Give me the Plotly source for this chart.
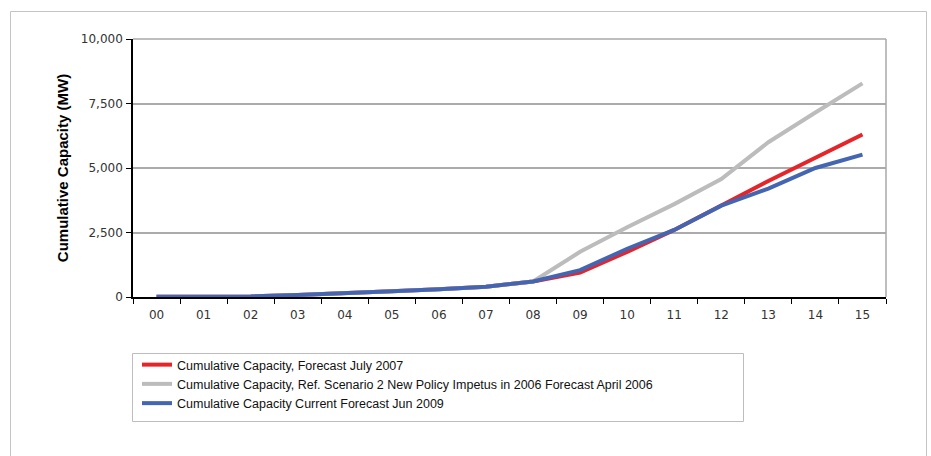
import plotly.graph_objects as go

# Years (two-digit) along the category axis
years = ["00", "01", "02", "03", "04", "05", "06", "07",
         "08", "09", "10", "11", "12", "13", "14", "15"]

# Cumulative installed capacity, MW
forecast_jul_2007 = [10, 10, 20, 80, 140, 220, 300, 400,
                     600, 950, 1750, 2600, 3550, 4500, 5400, 6300]
ref_scenario_apr_2006 = [10, 10, 20, 80, 140, 220, 300, 400,
                         600, 1750, 2700, 3600, 4570, 6000, 7150, 8280]
forecast_jun_2009 = [10, 10, 20, 80, 140, 220, 300, 400,
                     600, 1040, 1870, 2600, 3540, 4200, 5000, 5520]

series_names = [
    "Cumulative Capacity, Forecast July 2007",
    "Cumulative Capacity, Ref. Scenario 2 New Policy Impetus in 2006 Forecast April 2006",
    "Cumulative Capacity Current Forecast Jun 2009",
]
series_values = [forecast_jul_2007, ref_scenario_apr_2006, forecast_jun_2009]
series_colors = ["#E5252A", "#BCBCBC", "#4466B2"]

y_ticks = [0, 2500, 5000, 7500, 10000]

fig = go.Figure()
for i, (name, vals, col) in enumerate(zip(series_names, series_values, series_colors)):
    fig.add_trace(go.Scatter(
        x=years, y=vals, name=name, mode="lines",
        line=dict(color=col, width=4),
        legendgroup=f"g{i}",
    ))

# plot-area geometry in pixels (for paper-coordinate decorations)
W, H = 931, 456
L, R, T, B = 133, 45, 39, 159
pw, ph = W - L - R, H - T - B


def px(x):
    return (x - L) / pw


def py(y):
    return (H - B - y) / ph


shapes = [
    # outer frame around the whole chart
    dict(type="rect", xref="paper", yref="paper",
         x0=px(10.5), x1=px(926.5), y0=py(480), y1=py(11.5),
         line=dict(color="#C4C4C4", width=1), fillcolor="rgba(0,0,0,0)", layer="below"),
    # right border and top edge of plot area
    dict(type="line", xref="paper", yref="paper", x0=1, x1=1, y0=0, y1=1,
         line=dict(color="#A8A8A8", width=1.5)),
    dict(type="line", xref="paper", yref="paper", x0=0, x1=1, y0=1, y1=1,
         line=dict(color="#A8A8A8", width=1.5)),
    # legend frame
    dict(type="rect", xref="paper", yref="paper",
         x0=px(132.5), x1=px(743.5), y0=py(421.5), y1=py(353.5),
         line=dict(color="#BDBDBD", width=1), fillcolor="rgba(0,0,0,0)"),
]

fig.update_layout(
    width=W, height=H,
    margin=dict(l=L, r=R, t=T, b=B, pad=0),
    paper_bgcolor="white", plot_bgcolor="white",
    shapes=shapes,
    legend=dict(
        x=px(137), y=py(350), xanchor="left", yanchor="top",
        bgcolor="rgba(0,0,0,0)", borderwidth=0,
        font=dict(family="Liberation Sans Narrow, Liberation Sans, Arial", size=12.5, color="#111"),
        tracegroupgap=0,
    ),
    xaxis=dict(
        type="category", tickson="boundaries",
        showline=True, linecolor="black", linewidth=1.5,
        ticks="outside", ticklen=5, tickcolor="black", tickwidth=1.2,
        showgrid=False, zeroline=False,
        tickfont=dict(family="DejaVu Sans, Verdana", size=12, color="#333"),
        ticklabelstandoff=6,
        range=[-0.5, 15.5],
    ),
    yaxis=dict(
        range=[0, 10000], tickvals=y_ticks, tickformat=",d",
        showline=True, linecolor="black", linewidth=1.5,
        ticks="outside", ticklen=5, tickcolor="black", tickwidth=1.2,
        showgrid=True, gridcolor="#ABABAB", gridwidth=1.5,
        zeroline=False,
        tickfont=dict(family="DejaVu Sans, Verdana", size=12, color="#333"),
        ticklabelstandoff=1,
        title=dict(text="Cumulative Capacity (MW)", standoff=9,
                   font=dict(family="Liberation Sans, Arial", size=15, color="black")),
    ),
)
fig.update_yaxes(title_font_weight="bold")

fig.write_html("out.html")
